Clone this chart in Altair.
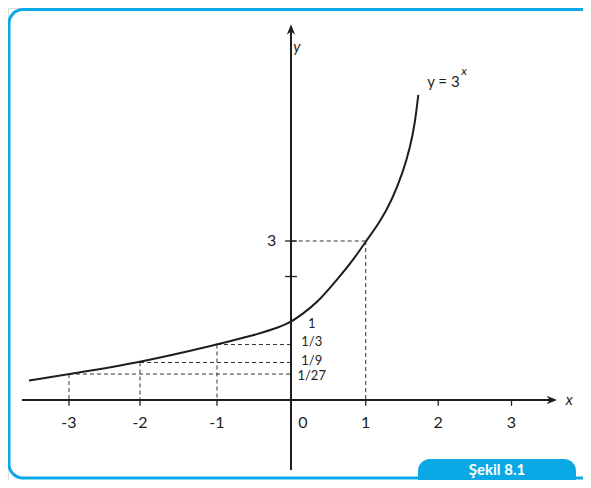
import altair as alt
import pandas as pd

# ---- data ----
curve_x = [-3.54, -3.0, -2.04, -1.0, -0.486, -0.149, 0.0, 0.166, 0.347, 0.618, 0.842, 1.014,
           1.203, 1.365, 1.514, 1.608, 1.676, 1.72]
curve_y = [0.367, 0.49, 0.708, 1.047, 1.226, 1.377, 1.47, 1.636, 1.825, 2.264, 2.642, 3.0,
           3.36, 3.774, 4.302, 4.755, 5.226, 5.755]

guide_x = [-3.0, -2.04, -1.0, 1.01]
guide_y = [0.49, 0.708, 1.047, 3.0]

xtick_vals = [-3.0, -2.04, -1.0, 1.01, 1.99, 2.98]
xlabel_vals = [-3.0, -2.04, -1.0, 0.16, 1.01, 1.99, 2.98]
xlabel_text = ["-3", "-2", "-1", "0", "1", "2", "3"]

ytick_vals = [3.0, 2.33]

frac_y = [1.43, 1.09, 0.74, 0.45]
frac_text = ["1", "1/3", "1/9", "1/27"]

# ---- layout ----
W, H = 575, 472
XD = [-3.824, 3.946]
YD = [-1.509, 7.396]
INK = "#1e1e1e"
BLUE = "#0aa9e6"
FONT = "Lato"

xs = alt.Scale(domain=XD, nice=False, zero=False)
ys = alt.Scale(domain=YD, nice=False, zero=False)

def X(f="x"):
    return alt.X(f"{f}:Q", scale=xs, axis=None)

def Y(f="y"):
    return alt.Y(f"{f}:Q", scale=ys, axis=None)

one = alt.Data(values=[{"a": 1}])

frame = alt.Chart(one).mark_rect(
    fill=None, stroke=BLUE, strokeWidth=3, cornerRadius=14
).encode(x=alt.value(1), x2=alt.value(640), y=alt.value(1.5), y2=alt.value(470))

curve_df = pd.DataFrame({"x": curve_x, "y": curve_y})
curve = alt.Chart(curve_df).mark_line(
    color=INK, strokeWidth=2, interpolate="basis"
).encode(x=X(), y=Y())

gdf = pd.DataFrame({"x": guide_x, "y": guide_y, "x0": [0] * 4, "y0": [0] * 4})
hdash = alt.Chart(gdf).mark_rule(color="#333", strokeWidth=1, strokeDash=[4, 3]).encode(
    x=X(), x2="x0:Q", y=Y()
)
vdash = alt.Chart(gdf).mark_rule(color="#333", strokeWidth=1, strokeDash=[4, 3]).encode(
    x=X(), y=Y(), y2="y0:Q"
)

# axes lines
axdf = pd.DataFrame({"x": [-3.635], "x2": [3.55], "y": [0.0]})
xaxis = alt.Chart(axdf).mark_rule(color=INK, strokeWidth=2).encode(x=X(), x2="x2:Q", y=Y())
aydf = pd.DataFrame({"y": [-1.32], "y2": [7.0], "x": [0.0]})
yaxis = alt.Chart(aydf).mark_rule(color=INK, strokeWidth=2).encode(y=Y(), y2="y2:Q", x=X())

xarrow = alt.Chart(pd.DataFrame({"x": [3.595], "y": [0.0]})).mark_point(
    shape="M0,0 L-2,-0.8 L-1.4,0 L-2,0.8 Z", filled=True, color=INK, size=110, opacity=1
).encode(x=X(), y=Y())
yarrow = alt.Chart(pd.DataFrame({"x": [0.0], "y": [7.09]})).mark_point(
    shape="M0,0 L-0.8,2 L0,1.4 L0.8,2 Z", filled=True, color=INK, size=110, opacity=1
).encode(x=X(), y=Y())

# ticks
xt = pd.DataFrame({"x": xtick_vals, "y": [0.0] * 6, "y2": [-0.11] * 6})
xticks = alt.Chart(xt).mark_rule(color=INK, strokeWidth=1.3).encode(x=X(), y=Y(), y2="y2:Q")
yt = pd.DataFrame({"y": ytick_vals, "x": [-0.08] * 2, "x2": [0.08] * 2})
yticks = alt.Chart(yt).mark_rule(color=INK, strokeWidth=1.3).encode(y=Y(), x=X(), x2="x2:Q")

# labels
xl = pd.DataFrame({"x": xlabel_vals, "y": [-0.43] * 7, "t": xlabel_text})
xlabels = alt.Chart(xl).mark_text(font=FONT, fontSize=16, color=INK, align="center", baseline="middle").encode(
    x=X(), y=Y(), text="t:N"
)
yl = pd.DataFrame({"x": [-0.26], "y": [3.0], "t": ["3"]})
ylabels = alt.Chart(yl).mark_text(font=FONT, fontSize=16, color=INK, align="center", baseline="middle").encode(
    x=X(), y=Y(), text="t:N"
)
fl = pd.DataFrame({"x": [0.28] * 4, "y": frac_y, "t": frac_text})
flabels = alt.Chart(fl).mark_text(font=FONT, fontSize=13, color=INK, align="center", baseline="middle").encode(
    x=X(), y=Y(), text="t:N"
)

axis_names = pd.DataFrame({"x": [0.08, 3.76], "y": [6.66, 0.0], "t": ["y", "x"]})
anames = alt.Chart(axis_names).mark_text(
    font=FONT, fontSize=15, fontStyle="italic", color=INK, align="center", baseline="middle"
).encode(x=X(), y=Y(), text="t:N")

eq = alt.Chart(pd.DataFrame({"x": [1.84], "y": [6.0], "t": ["y = 3"]})).mark_text(
    font=FONT, fontSize=15, color=INK, align="left", baseline="middle"
).encode(x=X(), y=Y(), text="t:N")
eq_sup = alt.Chart(pd.DataFrame({"x": [2.30], "y": [6.2], "t": ["x"]})).mark_text(
    font=FONT, fontSize=12, fontStyle="italic", color=INK, align="left", baseline="middle"
).encode(x=X(), y=Y(), text="t:N")

tab = alt.Chart(one).mark_rect(fill=BLUE, cornerRadius=12).encode(
    x=alt.value(410), x2=alt.value(568), y=alt.value(451), y2=alt.value(495)
)
tab_text = alt.Chart(one).mark_text(
    font=FONT, fontSize=15, fontWeight="bold", color="white", align="center", baseline="middle"
).encode(x=alt.value(489), y=alt.value(462), text=alt.value("Şekil 8.1"))

chart = alt.layer(
    frame, hdash, vdash, curve, xaxis, yaxis, xarrow, yarrow, xticks, yticks,
    xlabels, ylabels, flabels, anames, eq, eq_sup, tab, tab_text
).properties(
    width=W, height=H, autosize=alt.AutoSizeParams(type="none"), padding=0
).configure_view(stroke=None).configure(background="white")

chart.save("out.html", embed_options={"renderer": "svg", "actions": False})
